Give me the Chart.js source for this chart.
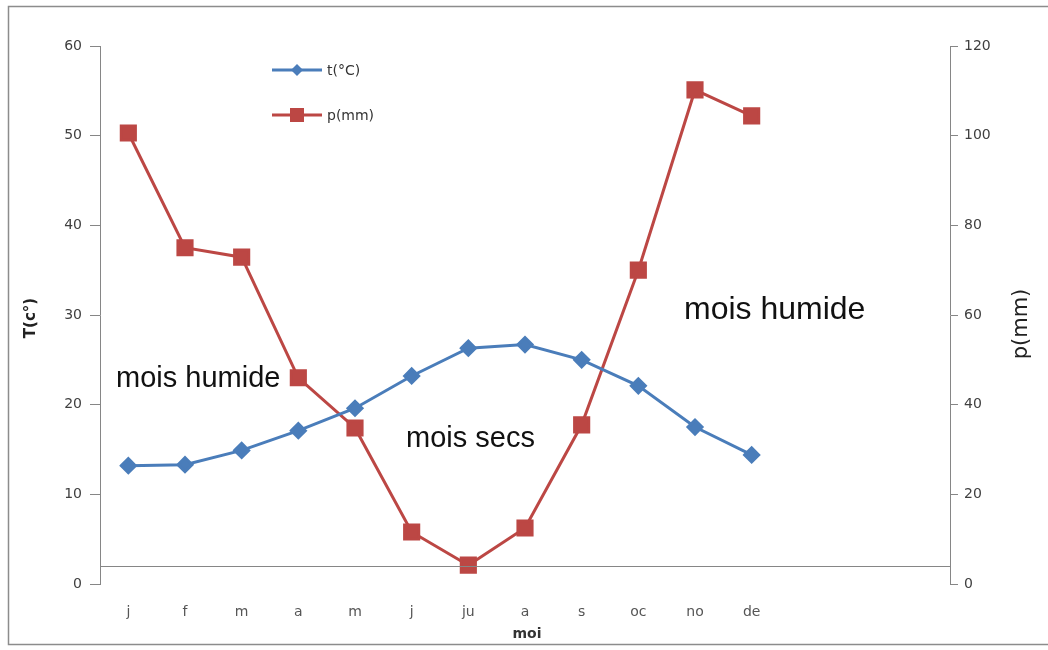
<!DOCTYPE html>
<html>
<head>
<meta charset="utf-8">
<script src="https://cdn.jsdelivr.net/npm/chart.js@4"></script>
<style>
  html, body { margin: 0; padding: 0; background: #fff; }
  #wrap { width: 1048px; height: 650px; }
</style>
</head>
<body>
<div id="wrap"><canvas id="climate-chart" width="1048" height="650"></canvas></div>
<script>
// months (3 empty slots at the end, as in the original sheet)
var months = ['j', 'f', 'm', 'a', 'm', 'j', 'ju', 'a', 's', 'oc', 'no', 'de', '', '', ''];
var temperature = [13.2, 13.3, 14.9, 17.1, 19.6, 23.2, 26.3, 26.7, 25.0, 22.1, 17.5, 14.4];
var rainfall = [100.6, 75, 72.9, 46, 34.8, 11.6, 4.2, 12.5, 35.5, 70, 110.2, 104.4];
var tempTicks = [0, 60, 10];   // min, max, step
var rainTicks = [0, 120, 20];
var crossingValue = 2;         // horizontal axis crosses T at 2

var blue = '#4a7dba';
var red = '#bc4744';
var axisGrey = '#868686';

// frame, crossing line, annotations, custom legend and axis titles
var extras = {
    id: 'extras',
    beforeDraw: function(chart) {
        var ctx = chart.ctx;
        ctx.save();
        ctx.fillStyle = '#fff';
        ctx.fillRect(0, 0, chart.width, chart.height);
        ctx.strokeStyle = '#8c8c8c';
        ctx.lineWidth = 1.5;
        ctx.strokeRect(8.5, 6.5, 1045, 638);
        ctx.restore();
    },
    afterDatasetsDraw: function(chart) {
        var ctx = chart.ctx;
        var area = chart.chartArea;
        var yT = chart.scales.y;
        ctx.save();
        // axis crossing line
        var yc = Math.round(yT.getPixelForValue(crossingValue)) + 0.5;
        ctx.strokeStyle = axisGrey;
        ctx.lineWidth = 1;
        ctx.beginPath();
        ctx.moveTo(area.left, yc);
        ctx.lineTo(area.right, yc);
        ctx.stroke();

        // annotations
        ctx.fillStyle = '#111';
        ctx.font = '29px "Liberation Sans", Arial, sans-serif';
        ctx.textBaseline = 'middle';
        ctx.textAlign = 'left';
        ctx.fillText('mois humide', 116, 379);
        ctx.fillText('mois secs', 406, 439);
        ctx.font = '32px "Liberation Sans", Arial, sans-serif';
        ctx.fillText('mois humide', 684, 310);

        // legend
        var items = [
            { label: 't(°C)', color: blue, shape: 'diamond', y: 70 },
            { label: 'p(mm)', color: red, shape: 'square', y: 115 }
        ];
        items.forEach(function(it) {
            ctx.strokeStyle = it.color;
            ctx.lineWidth = 3;
            ctx.beginPath();
            ctx.moveTo(272, it.y);
            ctx.lineTo(322, it.y);
            ctx.stroke();
            ctx.fillStyle = it.color;
            ctx.beginPath();
            if (it.shape === 'diamond') {
                ctx.moveTo(297, it.y - 6);
                ctx.lineTo(303, it.y);
                ctx.lineTo(297, it.y + 6);
                ctx.lineTo(291, it.y);
            } else {
                ctx.rect(290, it.y - 7, 14, 14);
            }
            ctx.fill();
            ctx.fillStyle = '#333';
            ctx.font = '14px "DejaVu Sans", Verdana, sans-serif';
            ctx.textAlign = 'left';
            ctx.fillText(it.label, 327, it.y + 1);
        });

        // axis titles
        ctx.fillStyle = '#222';
        ctx.save();
        ctx.translate(31, 318);
        ctx.rotate(-Math.PI / 2);
        ctx.textAlign = 'center';
        ctx.font = 'bold 15px "DejaVu Sans", Verdana, sans-serif';
        ctx.fillText('T(c°)', 0, 0);
        ctx.restore();
        ctx.save();
        ctx.translate(1022, 324);
        ctx.rotate(-Math.PI / 2);
        ctx.textAlign = 'center';
        ctx.font = '21px "DejaVu Sans", Verdana, sans-serif';
        ctx.fillText('p(mm)', 0, 0);
        ctx.restore();
        ctx.fillStyle = '#333';
        ctx.textAlign = 'center';
        ctx.font = 'bold 14px "DejaVu Sans", Verdana, sans-serif';
        ctx.fillText('moi', area.left + (area.right - area.left) * 0.5 + 2, 634);
        ctx.restore();
    }
};

var ctx = document.getElementById('climate-chart').getContext('2d');
new Chart(ctx, {
    type: 'line',
    data: {
        labels: months,
        datasets: [{
            label: 't(°C)',
            data: temperature,
            yAxisID: 'y',
            borderColor: blue,
            backgroundColor: blue,
            borderWidth: 3,
            pointStyle: 'rectRot',
            pointRadius: 7,
            pointHoverRadius: 7,
            tension: 0
        }, {
            label: 'p(mm)',
            data: rainfall,
            yAxisID: 'y1',
            borderColor: red,
            backgroundColor: red,
            borderWidth: 3,
            pointStyle: 'rect',
            pointRadius: 10,
            pointHoverRadius: 10,
            tension: 0
        }]
    },
    plugins: [extras],
    options: {
        responsive: false,
        animation: false,
        layout: { padding: { left: 8, right: 0, top: 46, bottom: 0 } },
        plugins: {
            legend: { display: false },
            tooltip: { enabled: false }
        },
        scales: {
            x: {
                offset: true,
                grid: { display: false },
                border: { display: false },
                ticks: {
                    color: '#555',
                    padding: 12,
                    maxRotation: 0,
                    autoSkip: false,
                    font: { family: '"DejaVu Sans", Verdana, sans-serif', size: 14 }
                },
                afterFit: function(s) { s.height = 66; }
            },
            y: {
                position: 'left',
                min: tempTicks[0],
                max: tempTicks[1],
                ticks: {
                    stepSize: tempTicks[2],
                    color: '#404040',
                    padding: 8,
                    font: { family: '"DejaVu Sans", Verdana, sans-serif', size: 14 }
                },
                grid: { drawOnChartArea: false, tickLength: 10, color: axisGrey },
                border: { color: axisGrey, width: 1 },
                afterFit: function(s) { s.width = 92; }
            },
            y1: {
                position: 'right',
                min: rainTicks[0],
                max: rainTicks[1],
                ticks: {
                    stepSize: rainTicks[2],
                    color: '#404040',
                    padding: 6,
                    font: { family: '"DejaVu Sans", Verdana, sans-serif', size: 14 }
                },
                grid: { drawOnChartArea: false, tickLength: 8, color: axisGrey },
                border: { color: axisGrey, width: 1 },
                afterFit: function(s) { s.width = 98; }
            }
        }
    }
});
</script>
</body>
</html>
